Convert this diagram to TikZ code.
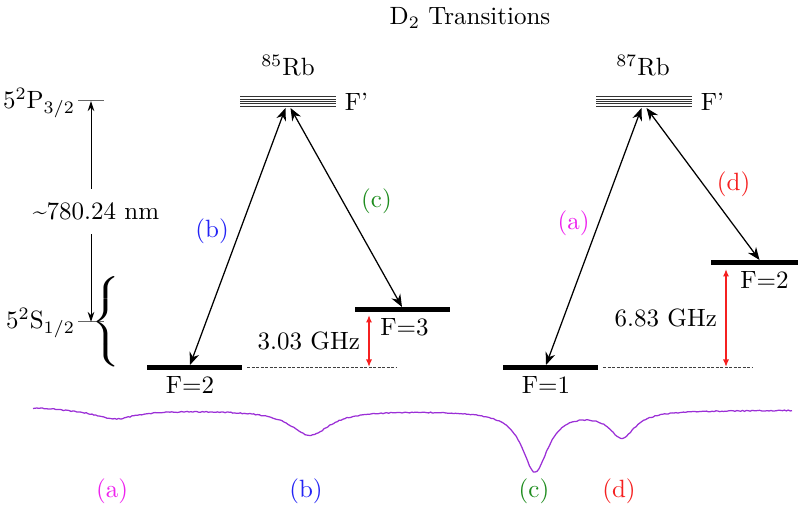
\documentclass[tikz,border=0pt]{standalone}
\usepackage{xcolor}
\usepackage{tikz}
\usetikzlibrary{arrows.meta,positioning}
\definecolor{rbSpec}{HTML}{9B2FD6}
\definecolor{rbGreen}{HTML}{1E8C1E}
\definecolor{rbBlue}{HTML}{2323F5}
\definecolor{rbMag}{HTML}{EE22EE}
\definecolor{rbRed}{HTML}{F52020}

\begin{document}
\begin{tikzpicture}[x=0.4pt,y=-0.4pt,
  lvl/.style={fill=black,inner sep=0pt,minimum width=38pt,minimum height=2pt},
  exlvl/.style={inner sep=0pt,minimum width=38pt,minimum height=4.4pt},
  flbl/.style={inner sep=2pt},
  tr/.style={{Stealth[length=5pt,width=4pt]}-{Stealth[length=5pt,width=4pt]},line width=0.5pt},
  hf/.style={{Latex[length=3pt,width=2.5pt]}-{Latex[length=3pt,width=2.5pt]},draw=rbRed,line width=0.6pt},
  gap/.style={dash pattern=on 1.2pt off 0.6pt,draw=black!75,line width=0.4pt}
]
\useasboundingbox (0,0) rectangle (798,510);

% title and isotopes
\node (ttl) at (470,18) {D$_2$ Transitions};
\node (rb85) at (288,66) {$^{85}$Rb};
\node (rb87) at (643,66) {$^{87}$Rb};

% fine structure on the left
\node[anchor=east] (pLbl) at (84,103) {5$^2$P$_{3/2}$};
\node[anchor=east] (sLbl) at (84,323) {5$^2$S$_{1/2}$};
\draw[black!60] (78,101) -- (104,101);
\draw[black!60] (78,322) -- (104,322);
\coordinate (pTop) at (91,101);
\coordinate (sBot) at (91,322);
\draw[{Stealth[length=4pt,width=2.6pt]}-{Stealth[length=4pt,width=2.6pt]},line width=0.4pt] (pTop) -- (sBot)
  node[midway,fill=white,xshift=2pt,minimum height=18pt] (wl) {\textasciitilde780.24 nm};
\node[xscale=1.3] (brc) at (108,322) {$\left\{\rule[-15.5pt]{0pt}{36pt}\right.$};

% excited manifolds
\node[exlvl] (r85ex) at (288,102) {};
\node[exlvl] (r87ex) at (644,102) {};
\foreach \e in {r85ex,r87ex}
  \foreach \k in {0,...,4}
    \draw[black!80,line width=0.35pt] ([yshift=-\k*0.95pt-0.3pt]\e.north west) -- ([yshift=-\k*0.95pt-0.3pt]\e.north east);
\node[right=0pt of r85ex] (r85fp) {F'};
\node[right=0pt of r87ex] (r87fp) {F'};

% ground hyperfine levels
\node[lvl] (r85f2) at (194,368) {};
\node[lvl] (r85f3) at (402,310) {};
\node[lvl] (r87f1) at (550,368) {};
\node[lvl] (r87f2) at (758,263) {};
\node[flbl,below=0pt of r85f2,xshift=-1.6pt] (r85f2l) {F=2};
\node[flbl,below=0pt of r85f3,xshift=1pt] (r85f3l) {F=3};
\node[flbl,below=0pt of r87f1,xshift=-1.6pt] (r87f1l) {F=1};
\node[flbl,below=0pt of r87f2,xshift=2.6pt] (r87f2l) {F=2};

% splittings
\coordinate (r85gapEnd) at (396,368);
\coordinate (r87gapEnd) at (752,368);
\draw[gap] ([xshift=2pt]r85f2.east) -- (r85gapEnd);
\draw[gap] ([xshift=2pt]r87f1.east) -- (r87gapEnd);
\coordinate (r85hfTop) at (369,315);
\coordinate (r85hfBot) at (369,367);
\coordinate (r87hfTop) at (726,269);
\coordinate (r87hfBot) at (726,367);
\draw[hf] (r85hfTop) -- (r85hfBot) node[midway,left] (r85hf) {3.03 GHz};
\draw[hf] (r87hfTop) -- (r87hfBot) node[midway,left] (r87hf) {6.83 GHz};

% transitions
\draw[tr] ([xshift=-1pt]r85ex.south) -- ([xshift=-1.6pt]r85f2.north) node[midway,left=0pt,yshift=2pt,text=rbBlue] {(b)};
\draw[tr] ([xshift=1pt]r85ex.south) -- (r85f3.north) node[midway,right=2.4pt,yshift=2.4pt,text=rbGreen] {(c)};
\draw[tr] ([xshift=-1pt]r87ex.south) -- ([xshift=-1.6pt]r87f1.north) node[pos=0.45,left=0pt,text=rbMag] {(a)};
\draw[tr] ([xshift=1pt]r87ex.south) -- ([xshift=0.6pt]r87f2.north) node[midway,right=2pt,text=rbRed] {(d)};

% absorption spectrum
\draw[rbSpec,line width=0.5pt] plot[domain=33:792,samples=400]
  (\x,{410-3/(1+((\x-33)/40)^2)+9/(1+((\x-115)/25)^2)+25/(1+((\x-310)/24)^2)+61/(1+((\x-535)/16)^2)+26/(1+((\x-622)/16)^2)+0.5*rand});
\node[text=rbMag] (pa) at (112,491) {(a)};
\node[text=rbBlue] (pb) at (306,491) {(b)};
\node[text=rbGreen] (pc) at (534,491) {(c)};
\node[text=rbRed] (pd) at (619,491) {(d)};
\end{tikzpicture}
\end{document}
